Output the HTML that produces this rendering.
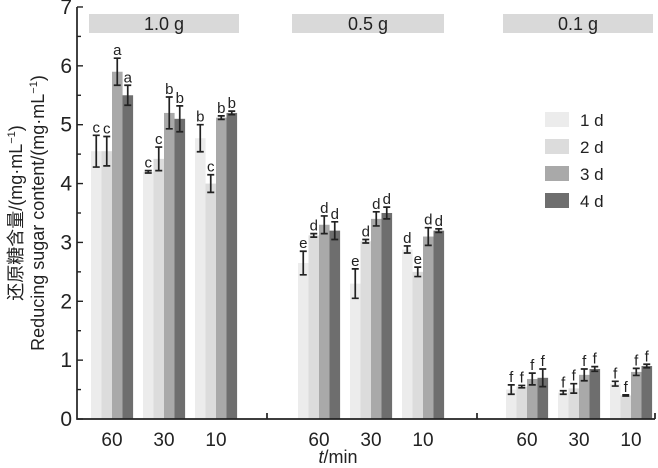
<!DOCTYPE html><html><head><style>body{margin:0;background:#fff}svg{display:block}text{font-family:"Liberation Sans","Noto Sans CJK SC",sans-serif;fill:#222}</style></head><body>
<svg id="s" width="658" height="468" xmlns="http://www.w3.org/2000/svg"></svg>
<script>
const s=document.getElementById('s');let h='';
const Y=v=>419-v*58.86;
h+='<rect x="89" y="14" width="150" height="19" fill="#d9d9d9"/><text x="164" y="30" font-size="18" text-anchor="middle">1.0 g</text>';
h+='<rect x="292" y="14" width="152" height="19" fill="#d9d9d9"/><text x="368" y="30" font-size="18" text-anchor="middle">0.5 g</text>';
h+='<rect x="503" y="14" width="150" height="19" fill="#d9d9d9"/><text x="578" y="30" font-size="18" text-anchor="middle">0.1 g</text>';
const cols=['#ececec','#dcdcdc','#a9a9a9','#6e6e6e'];
const data=[
[[4.55,.27,'c'],[4.55,.25,'c'],[5.9,.23,'a'],[5.5,.17,'a']],
[[4.2,.02,'c'],[4.42,.2,'c'],[5.2,.27,'b'],[5.1,.22,'b']],
[[4.77,.23,'b'],[4.0,.15,'c'],[5.12,.03,'b'],[5.2,.03,'b']],
[[2.65,.2,'e'],[3.12,.03,'d'],[3.3,.15,'d'],[3.2,.15,'d']],
[[2.3,.25,'e'],[3.02,.03,'d'],[3.4,.12,'d'],[3.5,.1,'d']],
[[2.88,.06,'d'],[2.5,.08,'e'],[3.1,.15,'d'],[3.2,.03,'d']],
[[0.5,.08,'f'],[0.55,.02,'f'],[0.68,.1,'f'],[0.7,.15,'f']],
[[0.45,.03,'f'],[0.52,.08,'f'],[0.75,.1,'f'],[0.85,.04,'f']],
[[0.6,.04,'f'],[0.4,.01,'f'],[0.8,.06,'f'],[0.9,.03,'f']]];
const gx=[91,143,195,298,350,402,506,558,610];
const lab=['60','30','10'];
data.forEach((g,i)=>{g.forEach((b,j)=>{const x=gx[i]+j*10.5,c=x+5.25;
h+=`<rect x="${x}" y="${Y(b[0])}" width="10.6" height="${419-Y(b[0])}" fill="${cols[j]}"/>`;
const t=Y(b[0]+b[1]),bo=Y(b[0]-b[1]);
h+=`<path d="M${c} ${t}V${bo}M${c-3.5} ${t}H${c+3.5}M${c-3.5} ${bo}H${c+3.5}" stroke="#222" stroke-width="1.7" fill="none"/>`;
h+=`<text x="${c}" y="${t-3}" font-size="15" text-anchor="middle">${b[2]}</text>`;});
h+=`<text x="${gx[i]+21}" y="446" font-size="19" text-anchor="middle">${lab[i%3]}</text>`;});
h+='<path d="M77 7V419H655M267 419V413M477 419V413M655 419V413" stroke="#222" stroke-width="1.7" fill="none"/>';
for(let v=0;v<=7;v+=0.5){const y=Y(v);h+=`<path d="M77 ${y}H${v%1?81:83}" stroke="#222" stroke-width="1.4"/>`;
if(v%1==0)h+=`<text x="72" y="${y+7}" font-size="21" text-anchor="end">${v}</text>`;}
['1 d','2 d','3 d','4 d'].forEach((t,j)=>{const y=112+j*27;h+=`<rect x="545" y="${y}" width="24" height="15" fill="${cols[j]}"/><text x="580" y="${y+14}" font-size="17">${t}</text>`;});
h+='<text x="338" y="463" font-size="18" text-anchor="middle"><tspan font-style="italic">t</tspan>/min</text>';
h+='<text transform="translate(22,213) rotate(-90)" font-size="18" text-anchor="middle">还原糖含量/(mg·mL<tspan font-size="11" dy="-7">−1</tspan><tspan dy="7">)</tspan></text>';
h+='<text transform="translate(44,213) rotate(-90)" font-size="18" text-anchor="middle">Reducing sugar content/(mg·mL<tspan font-size="11" dy="-7">−1</tspan><tspan dy="7">)</tspan></text>';
s.innerHTML=h;
</script></body></html>
